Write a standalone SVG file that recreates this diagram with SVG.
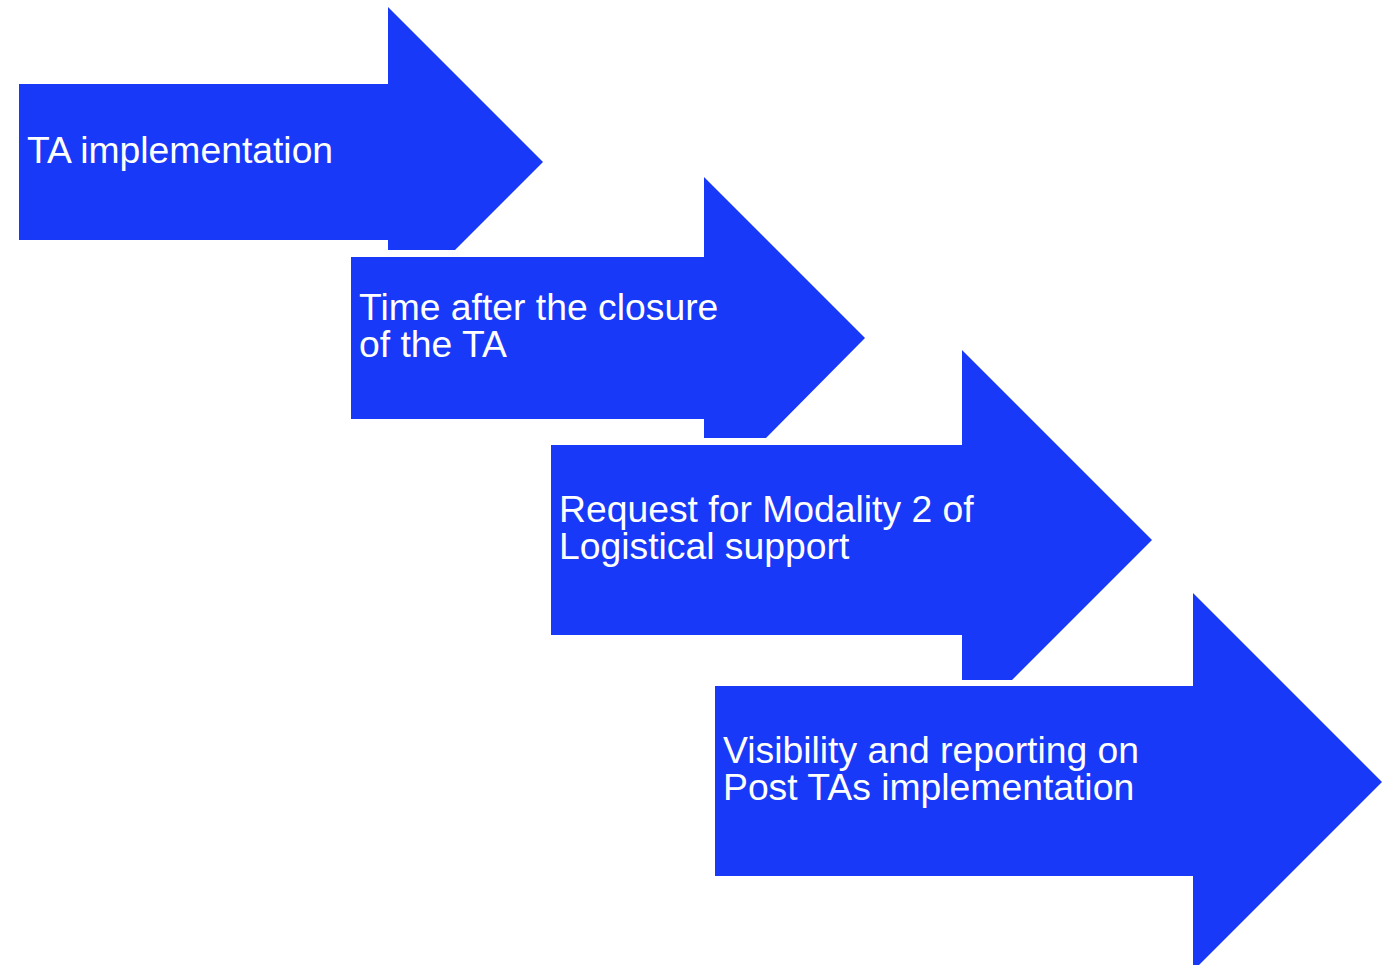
<svg xmlns="http://www.w3.org/2000/svg" width="1384" height="965" viewBox="0 0 1384 965">
<style>
.arrow{fill:#1839f7}
.lbl{fill:#ffffff;font-family:"Liberation Sans",Arial,sans-serif;font-size:37.3px}
</style>
<rect width="1384" height="965" fill="#ffffff"/>
<g id="node1">
<polygon class="arrow" points="19,84 388,84 388,7 543,162 455,250 388,250 388,240 19,240"/>
<text class="lbl" x="27" y="163">TA implementation</text>
</g>
<g id="node2">
<polygon class="arrow" points="351,257 704,257 704,177 865,338 766,438 704,438 704,419 351,419"/>
<text class="lbl"><tspan x="359" y="320">Time after the closure</tspan><tspan x="359" y="357">of the TA</tspan></text>
</g>
<g id="node3">
<polygon class="arrow" points="551,445 962,445 962,350 1152,540 1012,680 962,680 962,635 551,635"/>
<text class="lbl"><tspan x="559" y="522">Request for Modality 2 of</tspan><tspan x="559" y="559">Logistical support</tspan></text>
</g>
<g id="node4">
<polygon class="arrow" points="715,686 1193,686 1193,593 1382,782 1199,965 1193,965 1193,876 715,876"/>
<text class="lbl"><tspan x="723" y="763">Visibility and reporting on</tspan><tspan x="723" y="800">Post TAs implementation</tspan></text>
</g>
<g id="connectors"></g>
</svg>
